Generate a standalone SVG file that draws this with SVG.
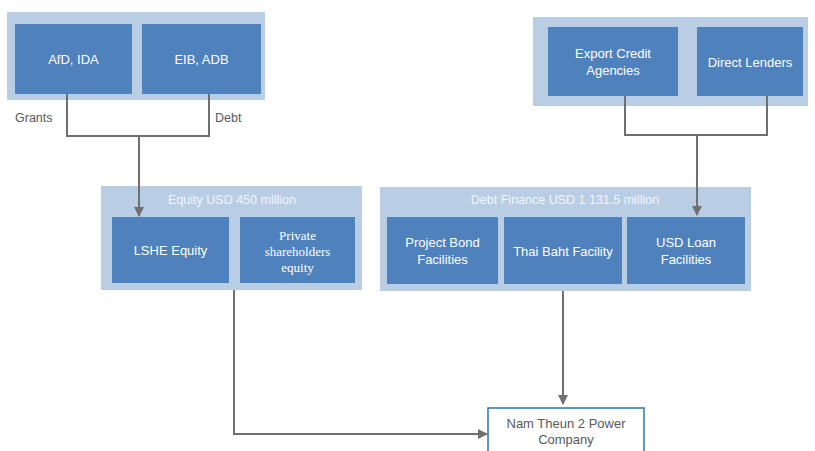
<svg xmlns="http://www.w3.org/2000/svg" width="815" height="451" viewBox="0 0 815 451">
<defs>
<style>
.outer{fill:#b9cde5;}
.box{fill:#4f81bd;}
.lbl{font-family:"Liberation Sans",Arial,sans-serif;font-size:13px;fill:#ffffff;text-anchor:middle;}
.ser{font-family:"Liberation Serif","Times New Roman",serif;font-size:13px;fill:#ffffff;text-anchor:middle;}
.title{font-family:"Liberation Sans",Arial,sans-serif;font-size:12.5px;fill:#f2f6fb;text-anchor:middle;}
.side{font-family:"Liberation Sans",Arial,sans-serif;font-size:12.5px;fill:#595959;}
.gray{font-family:"Liberation Sans",Arial,sans-serif;font-size:13px;fill:#595959;text-anchor:middle;}
.con{fill:none;stroke:#707070;stroke-width:2;}
</style>
<marker id="arr" viewBox="0 0 10 10" refX="9" refY="5" markerWidth="5" markerHeight="5" orient="auto" markerUnits="strokeWidth">
<path d="M0,0 L10,5 L0,10 z" fill="#707070"/>
</marker>
</defs>
<rect width="815" height="451" fill="#ffffff"/>

<g id="grp-donors">
<rect class="outer" x="7" y="12" width="258" height="88"/>
</g>
<g id="node-afd">
<rect class="box" x="15" y="24" width="117" height="70"/>
<text class="lbl" x="73.5" y="63.5">AfD, IDA</text>
</g>
<g id="node-eib">
<rect class="box" x="142" y="24" width="119" height="70"/>
<text class="lbl" x="201.5" y="63.5">EIB, ADB</text>
</g>

<g id="grp-lenders">
<rect class="outer" x="533" y="17" width="275" height="89"/>
</g>
<g id="node-eca">
<rect class="box" x="548" y="27" width="130" height="69"/>
<text class="lbl" x="613" y="58">Export Credit</text>
<text class="lbl" x="613" y="75">Agencies</text>
</g>
<g id="node-direct">
<rect class="box" x="697" y="27" width="106" height="69"/>
<text class="lbl" x="750" y="66.5">Direct Lenders</text>
</g>

<g id="grp-equity">
<rect class="outer" x="101" y="186" width="261" height="104"/>
<text class="title" x="232" y="203.5">Equity USD 450 million</text>
</g>
<g id="node-lshe">
<rect class="box" x="112" y="217" width="117" height="66"/>
<text class="lbl" x="170.5" y="254.5">LSHE Equity</text>
</g>
<g id="node-private">
<rect class="box" x="240" y="217" width="115" height="66"/>
<text class="ser" x="297.5" y="239.5">Private</text>
<text class="ser" x="297.5" y="255.5">shareholders</text>
<text class="ser" x="297.5" y="271.5">equity</text>
</g>

<g id="grp-debt">
<rect class="outer" x="380" y="187" width="371" height="104"/>
<text class="title" x="565" y="203.5">Debt Finance USD 1 131.5 million</text>
</g>
<g id="node-bond">
<rect class="box" x="387" y="217" width="111" height="67"/>
<text class="lbl" x="442.5" y="247">Project Bond</text>
<text class="lbl" x="442.5" y="263.5">Facilities</text>
</g>
<g id="node-thai">
<rect class="box" x="504" y="217" width="118" height="67"/>
<text class="lbl" x="563" y="255.5">Thai Baht Facility</text>
</g>
<g id="node-usd">
<rect class="box" x="627" y="217" width="118" height="67"/>
<text class="lbl" x="686" y="247">USD Loan</text>
<text class="lbl" x="686" y="263.5">Facilities</text>
</g>

<g id="node-nt2">
<rect x="488" y="408" width="156" height="50" fill="#ffffff" stroke="#2e75a6" stroke-width="1.5"/>
<text class="gray" x="566" y="427.5">Nam Theun 2 Power</text>
<text class="gray" x="566" y="443.5">Company</text>
</g>

<g id="labels">
<text class="side" x="15" y="122">Grants</text>
<text class="side" x="215" y="122">Debt</text>
</g>

<g id="connectors">
<path class="con" d="M67,94 V136 H209 V94"/>
<path class="con" d="M139,136 V216" marker-end="url(#arr)"/>
<path class="con" d="M625,96 V135 H767 V96"/>
<path class="con" d="M697,135 V215" marker-end="url(#arr)"/>
<path class="con" d="M234,290 V434 H487" marker-end="url(#arr)"/>
<path class="con" d="M563,291 V404" marker-end="url(#arr)"/>
</g>
</svg>
